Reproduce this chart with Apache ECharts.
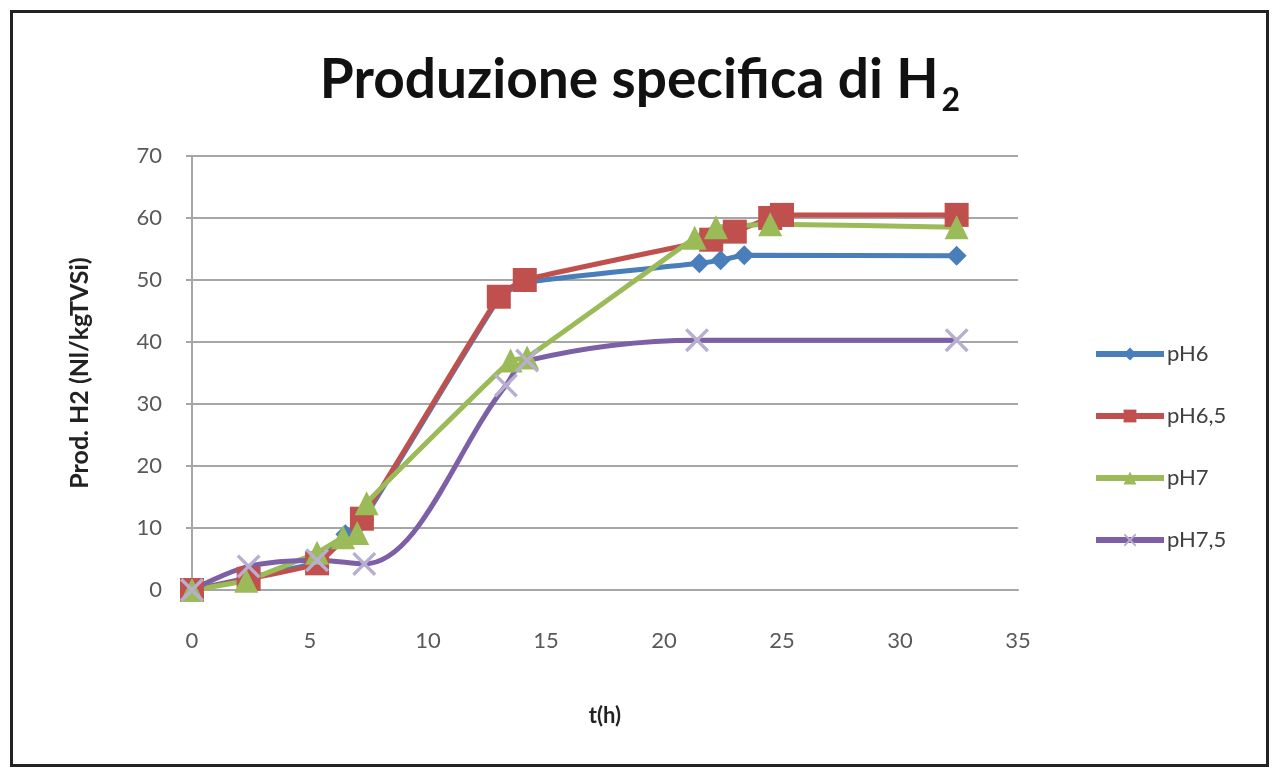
<!DOCTYPE html>
<html>
<head>
<meta charset="utf-8">
<script src="https://cdn.jsdelivr.net/npm/echarts@6/dist/echarts.min.js"></script>
<style>
  html, body { margin: 0; padding: 0; background: #fff; }
  #frame { position: absolute; left: 10px; top: 10px; width: 1259px; height: 757px; border: 3px solid #222; box-sizing: border-box; }
  #chart { position: absolute; left: 0; top: 0; width: 1280px; height: 774px; }
</style>
</head>
<body>
<div id="frame"></div>
<div id="chart"></div>
<script>
  // values, [t(h), Nl/kgTVSi]
  const seriesNames = ['pH6', 'pH6,5', 'pH7', 'pH7,5'];
  const pH6 = [[0, 0], [2.4, 2], [5.3, 4.5], [6.5, 9], [7.2, 11], [13.0, 47], [14.1, 49.6], [21.5, 52.7], [22.4, 53.2], [23.4, 54], [32.4, 53.9]];
  const pH65 = [[0, 0], [2.4, 1.8], [5.3, 4.3], [7.2, 11.5], [13.0, 47.3], [14.1, 50], [22.0, 56.5], [23.0, 57.8], [24.5, 60], [25.0, 60.5], [32.4, 60.5]];
  const pH7 = [[0, 0], [2.3, 1.5], [5.3, 6], [6.4, 8.5], [7.0, 9.2], [7.4, 14], [13.5, 37], [14.2, 37.5], [21.3, 56.8], [22.2, 58.5], [24.5, 59], [32.4, 58.5]];
  const pH75 = [[0, 0], [2.4, 3.8], [5.3, 4.8], [7.3, 4.2], [13.3, 33], [14.2, 37], [21.4, 40.3], [32.4, 40.3]];
  const xTicks = { min: 0, max: 35, interval: 5 };
  const yTicks = { min: 0, max: 70, interval: 10 };

  const colors = ['#4a7ebb', '#c0504d', '#9bbb59', '#7d5fa6'];
  const crossPath = 'path://M0,1L1,0L5,4L9,0L10,1L6,5L10,9L9,10L5,6L1,10L0,9L4,5Z';

  const chart = echarts.init(document.getElementById('chart'));

  const mk = (name, data, color, symbol, size, smooth, extra) => Object.assign({
    name: name,
    type: 'line',
    data: data,
    smooth: smooth,
    symbol: symbol,
    symbolSize: size,
    lineStyle: { color: color, width: 5 },
    itemStyle: { color: color },
    emphasis: { disabled: true }
  }, extra || {});

  chart.setOption({
    animation: false,
    title: {
      text: '{t|Produzione specifica di H}{s|2}',
      left: 'center',
      top: 48,
      textStyle: {
        rich: {
          t: { fontFamily: 'Lato', fontWeight: 'bold', fontSize: 55, color: '#111', verticalAlign: 'top' },
          s: { fontFamily: 'Lato', fontWeight: 'bold', fontSize: 32, color: '#111', verticalAlign: 'top', padding: [32, 0, 0, 3] }
        }
      }
    },
    grid: { left: 192, right: 262, top: 156, bottom: 184 },
    legend: {
      orient: 'vertical',
      left: 1088,
      top: 338,
      itemGap: 40,
      itemWidth: 68,
      itemHeight: 16,
      lineStyle: { width: 6 },
      textStyle: { fontFamily: 'Lato', fontSize: 22, color: '#404040', padding: [0, 0, 0, -2] },
      data: seriesNames
    },
    xAxis: {
      type: 'value',
      min: xTicks.min, max: xTicks.max, interval: xTicks.interval,
      name: 't(h)',
      nameLocation: 'middle',
      nameGap: 115,
      nameTextStyle: { fontFamily: 'Lato', fontWeight: 'bold', fontSize: 22, color: '#222' },
      axisLine: { lineStyle: { color: '#a6a6a6', width: 2 } },
      axisTick: { show: false },
      splitLine: { show: false },
      axisLabel: { fontFamily: 'Lato', fontSize: 22, color: '#595959', margin: 40 }
    },
    yAxis: {
      type: 'value',
      min: yTicks.min, max: yTicks.max, interval: yTicks.interval,
      name: 'Prod. H2 (Nl/kgTVSi)',
      nameLocation: 'middle',
      nameGap: 100,
      nameRotate: 90,
      nameTextStyle: { fontFamily: 'Lato', fontWeight: 'bold', fontSize: 25, color: '#222' },
      axisLine: { show: true, lineStyle: { color: '#a6a6a6', width: 2 } },
      axisTick: { show: true, inside: false, length: 6, lineStyle: { color: '#a6a6a6', width: 2 } },
      splitLine: { lineStyle: { color: '#a6a6a6', width: 2 } },
      axisLabel: { fontFamily: 'Lato', fontSize: 22, color: '#595959', margin: 30 }
    },
    series: [
      mk('pH6', pH6, colors[0], 'diamond', 20, 0.15),
      mk('pH6,5', pH65, colors[1], 'rect', 24, 0.15),
      mk('pH7', pH7, colors[2], 'triangle', 24, 0.1),
      mk('pH7,5', pH75, colors[3], crossPath, 24, 0.35, { itemStyle: { color: '#b8aed0' } })
    ]
  });
</script>
</body>
</html>
